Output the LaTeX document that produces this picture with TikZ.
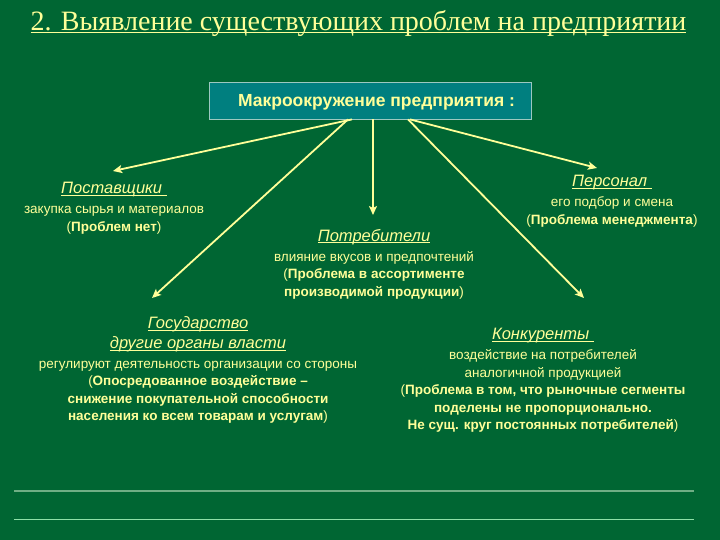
\documentclass[tikz,border=0pt]{standalone}
\usepackage{fontspec}
\setmainfont{Liberation Sans}
\newfontfamily\titlefont{Liberation Serif}
\usetikzlibrary{arrows.meta}
\definecolor{bg}{HTML}{006633}
\definecolor{ylw}{HTML}{FFFF99}
\definecolor{teal1}{HTML}{007F7F}
\definecolor{boxedge}{HTML}{9CC8C0}
\definecolor{lineA}{HTML}{6FAE85}
\definecolor{lineB}{HTML}{8FE0A8}
\tikzset{
  conn/.style={draw=ylw, line width=1.8pt, -{Stealth[length=9pt,width=8pt,inset=2pt]}},
  blk/.style={text=ylw, align=center, font=\fontsize{13.5}{17.5}\selectfont, inner sep=0pt},
}
\newcommand{\myul}[3]{\setbox0\hbox{#3}\rlap{\rule[-#1]{\wd0}{#2}}\box0}
\newcommand{\hd}[1]{{\fontsize{16.5}{20}\selectfont\itshape\myul{2pt}{0.7pt}{#1}}}
\begin{document}
\begin{tikzpicture}[x=1pt,y=-1pt]
\fill[bg] (0,0) rectangle (720,540);
\useasboundingbox (0,0) rectangle (720,540);
% title
\node[text=ylw, anchor=base, inner sep=0pt, font=\titlefont\fontsize{28}{30}\selectfont] (title) at (358.5,31) {\myul{2.5pt}{1.3pt}{2. Выявление существующих проблем на предприятии}};
% box
\node[draw=boxedge, line width=0.8pt, fill=teal1, minimum width=322pt, minimum height=37pt, inner sep=0pt] (box) at (370,100.5) {};
\node[text=ylw, inner sep=0pt, font=\bfseries\fontsize{17.5}{19}\selectfont] (boxtext) at (376.5,102) {Макроокружение предприятия :};
% blocks
\node[blk] (post) at (114,208) {\hd{Поставщики\ }\\[2.5pt]закупка сырья и материалов\\(\textbf{Проблем нет})};
\node[blk] (potr) at (374,264) {\hd{Потребители}\\[2.5pt]влияние вкусов и предпочтений\\(\textbf{Проблема в ассортименте}\\\textbf{производимой продукции})};
\node[blk] (pers) at (612,201) {\hd{Персонал\ }\\[2.5pt]его подбор и смена\\(\textbf{Проблема менеджмента})};
\node[blk] (gos) at (198,370) {\hd{Государство}\\[2.5pt]\hd{другие органы власти}\\[2.5pt]регулируют деятельность организации со стороны\\(\textbf{Опосредованное воздействие –}\\\textbf{снижение покупательной способности}\\\textbf{населения ко всем товарам и услугам})};
\node[blk] (konk) at (543,380.5) {\hd{Конкуренты\ }\\[2.5pt]воздействие на потребителей\\аналогичной продукцией\\(\textbf{Проблема в том, что рыночные сегменты}\\\textbf{поделены не пропорционально.}\\\textbf{Не сущ. круг постоянных потребителей})};
% arrow end points
\coordinate (ePost) at (113,171);
\coordinate (eGos) at (152,298);
\coordinate (ePotr) at (373,215);
\coordinate (eKonk) at (584,298);
\coordinate (ePers) at (597,168);
% arrows
\draw[conn] ([xshift=-18pt]box.south) -- (ePost);
\draw[conn] ([xshift=-22pt]box.south) -- (eGos);
\draw[conn] ([xshift=3pt]box.south) -- (ePotr);
\draw[conn] ([xshift=38pt]box.south) -- (eKonk);
\draw[conn] ([xshift=40pt]box.south) -- (ePers);
% bottom lines
\coordinate (l1a) at (14,491); \coordinate (l1b) at (694,491);
\coordinate (l2a) at (14,519); \coordinate (l2b) at (694,519);
\draw[lineA, line width=1.2pt] (l1a) -- (l1b);
\draw[lineB, line width=1pt] (l2a) -- (l2b);
\end{tikzpicture}
\end{document}
